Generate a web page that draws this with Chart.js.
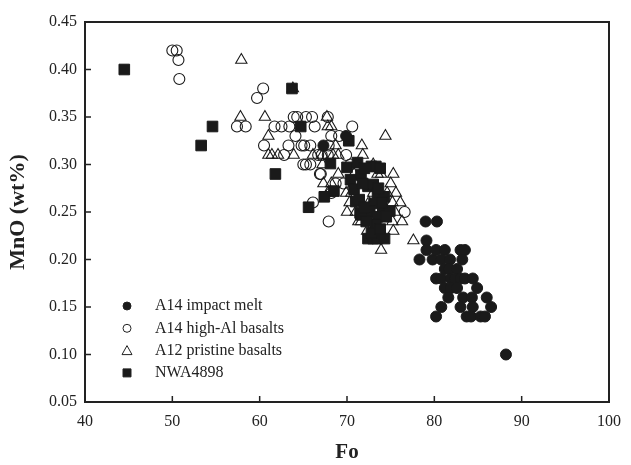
<!DOCTYPE html>
<html><head><meta charset="utf-8">
<script src="https://cdn.jsdelivr.net/npm/chart.js@4/dist/chart.umd.min.js"></script>
<style>html,body{margin:0;padding:0;background:#fff}#wrap{width:631px;height:465px}</style>
</head><body><div id="wrap"><canvas id="c" width="631" height="465"></canvas></div>
<script>
const xTicks = [40, 50, 60, 70, 80, 90, 100];
const yTicks = [0.05, 0.10, 0.15, 0.20, 0.25, 0.30, 0.35, 0.40, 0.45];
const seriesNames = ["A14 impact melt", "A14 high-Al basalts", "A12 pristine basalts", "NWA4898"];

const impactFo  = [80.3,79.0,79.1,79.1,78.3,79.8,80.2,81.2,83.0,83.5,80.8,81.8,83.2,81.2,81.7,82.6,80.2,80.8,81.9,82.4,83.0,83.5,84.4,81.2,81.9,82.6,84.9,81.6,83.3,84.3,86.0,80.8,83.0,84.4,86.5,80.2,83.7,84.2,85.3,85.8,88.2,67.3,69.9];
const impactMnO = [0.24,0.24,0.22,0.21,0.20,0.20,0.21,0.21,0.21,0.21,0.20,0.20,0.20,0.19,0.19,0.19,0.18,0.18,0.18,0.18,0.18,0.18,0.18,0.17,0.17,0.17,0.17,0.16,0.16,0.16,0.16,0.15,0.15,0.15,0.15,0.14,0.14,0.14,0.14,0.14,0.10,0.32,0.33];

const highAlFo  = [50.0,50.5,50.7,50.8,60.4,59.7,57.4,58.4,61.7,62.5,63.4,63.9,64.3,65.3,66.0,67.8,66.3,64.1,60.5,63.3,64.8,65.1,65.8,62.8,66.7,67.1,67.8,65.0,65.3,65.8,66.9,67.0,68.2,69.1,67.9,70.6,69.9,70.4,68.7,68.2,66.1,67.9,76.6,69.6];
const highAlMnO = [0.42,0.42,0.41,0.39,0.38,0.37,0.34,0.34,0.34,0.34,0.34,0.35,0.35,0.35,0.35,0.35,0.34,0.33,0.32,0.32,0.32,0.32,0.32,0.31,0.31,0.31,0.31,0.30,0.30,0.30,0.29,0.29,0.33,0.33,0.32,0.34,0.31,0.30,0.28,0.27,0.26,0.24,0.25,0.28];

const a12Fo  = [57.9,57.8,60.6,61.0,61.0,61.4,62.1,63.9,63.8,67.7,67.8,68.2,68.7,66.1,67.2,68.4,69.0,71.8,67.2,69.0,71.7,74.4,73.9,75.3,75.0,67.3,68.2,69.9,74.6,75.6,70.3,75.2,76.1,70.0,71.0,75.5,71.3,71.6,75.2,76.3,72.3,73.5,75.3,77.6,73.9,67.8,72.5,73.0,72.0,73.5,70.8,74.0,72.8,70.5,73.0,71.0];
const a12MnO = [0.41,0.35,0.35,0.33,0.31,0.31,0.31,0.31,0.38,0.35,0.34,0.34,0.32,0.31,0.31,0.31,0.31,0.31,0.30,0.29,0.32,0.33,0.29,0.29,0.28,0.28,0.28,0.27,0.27,0.27,0.26,0.26,0.26,0.25,0.25,0.25,0.24,0.24,0.24,0.24,0.23,0.23,0.23,0.22,0.21,0.27,0.26,0.27,0.28,0.29,0.29,0.25,0.24,0.27,0.30,0.30];

const nwaFo  = [44.5,54.6,53.3,61.8,63.7,64.7,65.6,67.4,68.1,68.5,70.2,70.0,71.2,72.8,73.3,70.4,71.6,70.8,72.4,73.0,73.5,74.3,71.0,71.4,73.1,74.1,71.5,72.6,73.5,74.9,71.6,73.3,72.4,73.0,73.5,74.3,72.8,72.0,73.8,71.8,73.6,74.0,72.0,72.2,74.5,73.8];
const nwaMnO = [0.40,0.34,0.32,0.29,0.38,0.34,0.255,0.266,0.301,0.272,0.325,0.297,0.302,0.298,0.298,0.284,0.289,0.274,0.277,0.279,0.27,0.266,0.261,0.263,0.259,0.25,0.249,0.251,0.245,0.251,0.247,0.237,0.222,0.222,0.222,0.222,0.228,0.296,0.296,0.28,0.275,0.26,0.255,0.24,0.245,0.232];

const pts = (xs, ys) => xs.map((x, i) => ({x: x, y: ys[i]}));

const PLOT = {left: 85, right: 612, top: 22, bottom: 402};

const frame = {
  id: 'frame',
  afterDraw(chart) {
    const ctx = chart.ctx, a = chart.chartArea;
    const xs = chart.scales.x, ys = chart.scales.y;
    ctx.save();
    ctx.strokeStyle = '#222';
    ctx.lineWidth = 2;
    ctx.strokeRect(a.left, a.top, a.right - a.left, a.bottom - a.top);
    ctx.lineWidth = 1.5;
    ctx.beginPath();
    xTicks.forEach(v => { const p = xs.getPixelForValue(v); ctx.moveTo(p, a.bottom); ctx.lineTo(p, a.bottom - 6); });
    yTicks.forEach(v => { const p = ys.getPixelForValue(v); ctx.moveTo(a.left, p); ctx.lineTo(a.left + 6, p); });
    ctx.stroke();
    // legend inside plot
    ctx.font = '16px "Liberation Serif"';
    ctx.textBaseline = 'middle';
    const mx = a.left + 42, tx = a.left + 70, y0 = a.bottom - 96, dy = 22.3;
    chart.data.datasets.forEach((ds, i) => {
      const y = y0 + i * dy;
      ctx.fillStyle = ds.backgroundColor;
      ctx.strokeStyle = '#222';
      ctx.lineWidth = 1;
      ctx.beginPath();
      if (ds.pointStyle === 'circle') { ctx.arc(mx, y, 4, 0, Math.PI * 2); }
      else if (ds.pointStyle === 'rect') { ctx.rect(mx - 4, y - 4, 8, 8); }
      else { ctx.moveTo(mx, y - 5); ctx.lineTo(mx + 5, y + 4); ctx.lineTo(mx - 5, y + 4); ctx.closePath(); }
      if (ds.backgroundColor !== 'rgba(0,0,0,0)') ctx.fill();
      ctx.stroke();
      ctx.fillStyle = '#222';
      ctx.fillText(ds.label, tx, y);
    });
    ctx.restore();
  }
};

new Chart(document.getElementById('c'), {
  type: 'scatter',
  data: {
    datasets: [
      {label: seriesNames[0], data: pts(impactFo, impactMnO), pointStyle: 'circle', pointRadius: 5.5, backgroundColor: '#1a1a1a', borderColor: '#1a1a1a', borderWidth: 1, order: 0},
      {label: seriesNames[1], data: pts(highAlFo, highAlMnO), pointStyle: 'circle', pointRadius: 5.5, backgroundColor: 'rgba(0,0,0,0)', borderColor: '#1a1a1a', borderWidth: 1.1, order: 2},
      {label: seriesNames[2], data: pts(a12Fo, a12MnO), pointStyle: 'triangle', pointRadius: 6.5, backgroundColor: 'rgba(0,0,0,0)', borderColor: '#1a1a1a', borderWidth: 1.1, order: 3},
      {label: seriesNames[3], data: pts(nwaFo, nwaMnO), pointStyle: 'rect', pointRadius: 7.5, backgroundColor: '#1a1a1a', borderColor: '#1a1a1a', borderWidth: 1, order: 1}
    ]
  },
  options: {
    responsive: false,
    animation: false,
    devicePixelRatio: 1,
    layout: {padding: {left: 0, right: 631 - PLOT.right, top: PLOT.top, bottom: 0}},
    plugins: {legend: {display: false}, tooltip: {enabled: false}},
    scales: {
      x: {
        type: 'linear', min: 40, max: 100,
        afterBuildTicks: s => { s.ticks = xTicks.map(v => ({value: v})); },
        afterFit: s => { s.height = 465 - PLOT.bottom; },
        grid: {display: false, drawTicks: false},
        border: {display: false},
        ticks: {color: '#222', font: {family: 'Liberation Serif', size: 16}, padding: 10, maxRotation: 0},
        title: {display: true, text: 'Fo', color: '#222', font: {family: 'Liberation Serif', size: 21, weight: 'bold'}, padding: {top: 4, bottom: 0}}
      },
      y: {
        type: 'linear', min: 0.05, max: 0.45,
        afterBuildTicks: s => { s.ticks = yTicks.map(v => ({value: v})); },
        afterFit: s => { s.width = PLOT.left; },
        grid: {display: false, drawTicks: false},
        border: {display: false},
        ticks: {color: '#222', font: {family: 'Liberation Serif', size: 16}, padding: 8, callback: v => v.toFixed(2)},
        title: {display: true, text: 'MnO (wt%)', color: '#222', font: {family: 'Liberation Serif', size: 22, weight: 'bold'}, padding: {top: 5, bottom: 0}}
      }
    }
  },
  plugins: [frame]
});
</script>
</body></html>
